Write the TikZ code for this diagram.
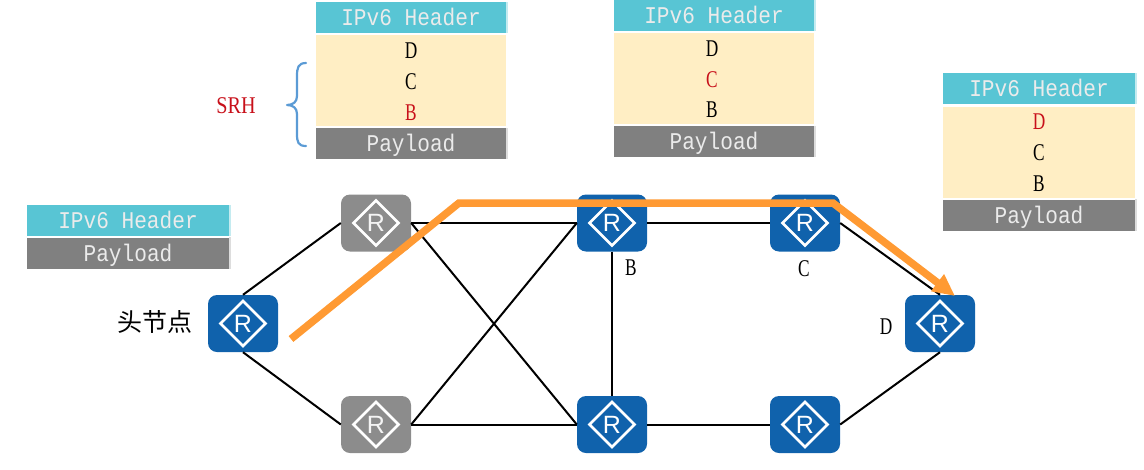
\documentclass[tikz,border=0pt]{standalone}
\usepackage{fontspec}
\setmainfont[FakeStretch=0.88]{Liberation Mono}
\newfontfamily\cjkfont{Noto Sans CJK SC}
\newfontfamily\iconfont{Liberation Sans}
\newfontfamily\letterfont[FakeStretch=0.72]{Liberation Serif}
\newfontfamily\tagfont[FakeStretch=0.84]{Liberation Serif}
\usetikzlibrary{arrows.meta}
\definecolor{routerblue}{HTML}{1062AC}
\definecolor{routergray}{HTML}{8C8C8C}
\definecolor{headcyan}{HTML}{58C5D4}
\definecolor{paleheadcyan}{HTML}{C4EBF0}
\definecolor{sidcream}{HTML}{FFEEC4}
\definecolor{paygray}{HTML}{808080}
\definecolor{palepaygray}{HTML}{DDDDDD}
\definecolor{pathorange}{HTML}{FF9A33}
\definecolor{bracecol}{HTML}{5B9BD5}
\definecolor{sidred}{HTML}{C8101A}
\tikzset{
  x=1pt,y=-1pt,
  routerbase/.style={minimum width=70pt,minimum height=57pt,rounded corners=9pt,inner sep=0pt,text=white,
    path picture={
      \draw[white,line width=2.6pt,sharp corners,line join=miter] (path picture bounding box.center) ++(-22.5pt,0) -- ++(22.5pt,22.5pt) -- ++(22.5pt,-22.5pt) -- ++(-22.5pt,-22.5pt) -- cycle;
    },font=\iconfont\fontsize{25}{25}\selectfont},
  router/.style={routerbase,fill=routerblue},
  grayrouter/.style={routerbase,fill=routergray,text=white!90!routergray},
  link/.style={black,line width=2pt},
  route/.style={pathorange,line width=7.5pt,line join=miter},
  field/.style={inner sep=0pt,minimum height=31pt,text height=21pt,text depth=5pt,font=\fontsize{24}{24}\selectfont,text=white!92!black},
  headfield/.style={field,fill=headcyan},
  payfield/.style={field,fill=paygray},
  srhfield/.style={inner sep=0pt,minimum height=91pt,fill=sidcream},
  sid/.style={inner sep=0pt,font=\letterfont\fontsize{24}{24}\selectfont,text=black},
  sidhot/.style={sid,text=sidred},
  tag/.style={inner sep=0pt,font=\letterfont\fontsize{24}{24}\selectfont,text=black},
  headedge/.style={fill=paleheadcyan},
  payedge/.style={fill=palepaygray},
}
\begin{document}
\begin{tikzpicture}
\useasboundingbox (0,0) rectangle (1144,469);

% routers
\node[router] (head) at (243,323.5) {R};
\node[grayrouter] (gt) at (376,223) {R};
\node[grayrouter] (gb) at (376,424.5) {R};
\node[router] (nb) at (612,223) {R};
\node[router] (nm) at (612,424.5) {R};
\node[router] (nc) at (805,223) {R};
\node[router] (nr) at (805,424.5) {R};
\node[router] (nd) at (940,323.5) {R};

% links
\draw[link] (head.north) -- (gt.west);
\draw[link] (head.south) -- (gb.west);
\draw[link] (gt.east) -- (nb.west);
\draw[link] (gt.east) -- (nm.west);
\draw[link] (gb.east) -- (nb.west);
\draw[link] (gb.east) -- (nm.west);
\draw[link] (nb.east) -- (nc.west);
\draw[link] (nb.south) -- (nm.north);
\draw[link] (nm.east) -- (nr.west);
\draw[link] (nc.east) -- (nd.north);
\draw[link] (nr.east) -- (nd.south);

% forwarding path
\coordinate (pa) at (291,339);
\coordinate (pb) at (459,203);
\coordinate (pc) at (833,203);
\coordinate (pd) at (955,296);
\draw[route,-{Triangle[length=22pt,width=20pt]}] (pa) -- (pb) -- (pc) -- (pd);

% packet at the head node
\node[headfield,minimum width=202pt] (h0) at (128,220.5) {IPv6 Header};
\node[payfield,minimum width=202pt] (p0) at (128,253) {Payload};
\fill[headedge] (h0.north east) rectangle ([xshift=2pt]h0.south east);
\fill[payedge] (p0.north east) rectangle ([xshift=2pt]p0.south east);

% packet with segments left 2
\node[headfield,minimum width=190pt] (h1) at (411,17.5) {IPv6 Header};
\node[srhfield,minimum width=190pt] (s1) at (411,80.5) {};
\node[payfield,minimum width=190pt] (p1) at (411,143.5) {Payload};
\fill[headedge] (h1.north east) rectangle ([xshift=2pt]h1.south east);
\fill[payedge] (p1.north east) rectangle ([xshift=2pt]p1.south east);
\node[sid] (s1d) at (411,51) {D};
\node[sid] (s1c) at (411,82) {C};
\node[sidhot] (s1b) at (411,113) {B};

% packet with segments left 1
\node[headfield,minimum width=200pt] (h2) at (714,15.5) {IPv6 Header};
\node[srhfield,minimum width=200pt] (s2) at (714,78.5) {};
\node[payfield,minimum width=200pt] (p2) at (714,141.5) {Payload};
\fill[headedge] (h2.north east) rectangle ([xshift=2pt]h2.south east);
\fill[payedge] (p2.north east) rectangle ([xshift=2pt]p2.south east);
\node[sid] (s2d) at (712,49) {D};
\node[sidhot] (s2c) at (712,80) {C};
\node[sid] (s2b) at (712,110) {B};

% packet with segments left 0
\node[headfield,minimum width=192pt] (h3) at (1039,88.5) {IPv6 Header};
\node[srhfield,minimum width=192pt] (s3) at (1039,152) {};
\node[payfield,minimum width=192pt] (p3) at (1039,215) {Payload};
\fill[headedge] (h3.north east) rectangle ([xshift=2pt]h3.south east);
\fill[payedge] (p3.north east) rectangle ([xshift=2pt]p3.south east);
\node[sidhot] (s3d) at (1039,122) {D};
\node[sid] (s3c) at (1039,153) {C};
\node[sid] (s3b) at (1039,184) {B};

% SRH brace
\node[inner sep=0pt,font=\tagfont\fontsize{24}{24}\selectfont,text=sidred] (srh) at (236,106) {SRH};
\coordinate (bt) at (306,63);
\coordinate (bm) at (287,105);
\coordinate (bb) at (306,146);
\draw[bracecol,line width=2.2pt,line cap=round,line join=round] (bt) .. controls (298,63) and (297,68) .. (297,76) -- (297,96) .. controls (297,102) and (293,105) .. (bm) .. controls (293,105) and (297,108) .. (297,114) -- (297,134) .. controls (297,142) and (298,146) .. (bb);

% router labels
\node[inner sep=0pt,font=\cjkfont\fontsize{25}{25}\selectfont,text=black] (hl) at (155,322) {头节点};
\node[tag] (lb) at (631,268) {B};
\node[tag] (lc) at (804,269) {C};
\node[tag] (ld) at (886,327) {D};
\end{tikzpicture}
\end{document}
